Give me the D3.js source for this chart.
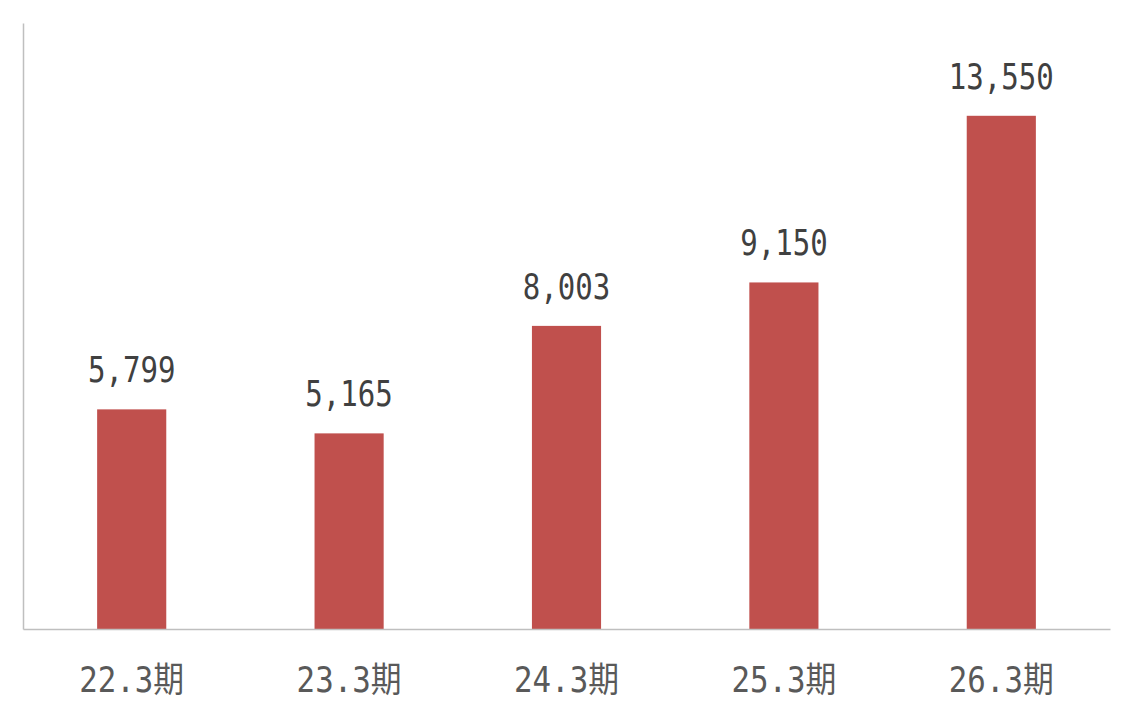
<!DOCTYPE html>
<html>
<head>
<meta charset="utf-8">
<script src="https://cdn.jsdelivr.net/npm/d3@7"></script>
<style>
  body { margin: 0; background: #fff; }
  svg { display: block; }
</style>
</head>
<body>
<div id="wrapper"></div>
<script>
const categories = ["22.3期", "23.3期", "24.3期", "25.3期", "26.3期"];
const values = [5799, 5165, 8003, 9150, 13550];
const yMax = 16000;

// half-width chars are 0.5em, CJK chars 1em (like a Japanese gothic font)
function textWidth(s, size) {
  let w = 0;
  for (const ch of s) w += ch.charCodeAt(0) > 0x2e80 ? size : size * 0.5;
  return w;
}

function drawBarChart() {
  let dimensions = {
    width: 1132,
    height: 722,
    margin: { top: 23, right: 22, bottom: 93, left: 23 },
  }
  dimensions.boundedWidth = dimensions.width - dimensions.margin.left - dimensions.margin.right;
  dimensions.boundedHeight = dimensions.height - dimensions.margin.top - dimensions.margin.bottom;

  const svg = d3.select("#wrapper").append("svg")
    .attr("width", dimensions.width)
    .attr("height", dimensions.height);

  const bounds = svg.append("g")
    .attr("transform", `translate(${dimensions.margin.left},${dimensions.margin.top})`);

  const xScale = d3.scaleBand()
    .domain(categories)
    .range([0, dimensions.boundedWidth])
    .paddingInner(0.682)
    .paddingOuter(0.341);

  const yScale = d3.scaleLinear()
    .domain([0, yMax])
    .range([dimensions.boundedHeight, 0]);

  bounds.selectAll("rect.bar")
    .data(values)
    .join("rect")
    .attr("class", "bar")
    .attr("x", (d, i) => xScale(categories[i]))
    .attr("y", d => yScale(d))
    .attr("width", xScale.bandwidth())
    .attr("height", d => yScale(0) - yScale(d))
    .attr("fill", "#C0504D");

  // axes: plain lines, no ticks
  const yAxis = bounds.append("g").call(d3.axisLeft(yScale).tickValues([]).tickSizeOuter(0));
  yAxis.select(".domain").attr("stroke", "#BFBFBF").attr("stroke-width", 1.5);

  const xAxis = bounds.append("g")
    .attr("transform", `translate(0,${dimensions.boundedHeight})`)
    .call(d3.axisBottom(xScale).tickSize(0).tickSizeOuter(0).tickFormat(""));
  xAxis.select(".domain").attr("stroke", "#BFBFBF").attr("stroke-width", 1.5);

  const labelSize = 35;
  const fmt = d3.format(",");
  bounds.selectAll("text.value")
    .data(values)
    .join("text")
    .attr("class", "value")
    .attr("x", (d, i) => xScale(categories[i]) + xScale.bandwidth() / 2)
    .attr("y", d => yScale(d) - 27)
    .attr("text-anchor", "middle")
    .attr("font-family", "'DejaVu Sans Mono', 'Noto Sans CJK JP', monospace")
    .attr("font-size", labelSize)
    .attr("fill", "#404040")
    .attr("textLength", d => textWidth(fmt(d), labelSize))
    .attr("lengthAdjust", "spacingAndGlyphs")
    .text(d => fmt(d));

  const catSize = 35;
  xAxis.selectAll("text.cat")
    .data(categories)
    .join("text")
    .attr("class", "cat")
    .attr("x", d => xScale(d) + xScale.bandwidth() / 2)
    .attr("y", 63)
    .attr("text-anchor", "middle")
    .attr("font-family", "'DejaVu Sans Mono', 'Noto Sans CJK JP', monospace")
    .attr("font-size", catSize)
    .attr("fill", "#595959")
    .attr("textLength", d => textWidth(d, catSize))
    .attr("lengthAdjust", "spacingAndGlyphs")
    .text(d => d);
}

drawBarChart();
</script>
</body>
</html>
